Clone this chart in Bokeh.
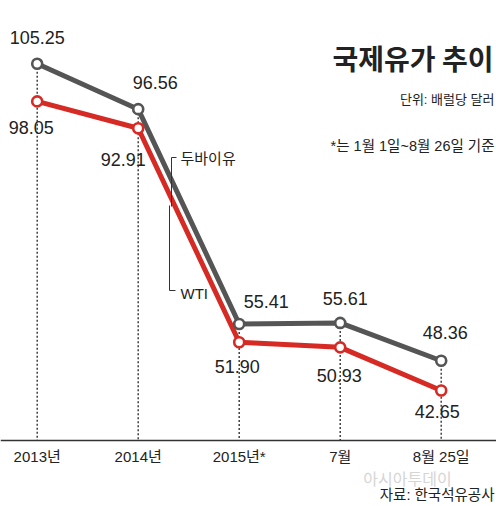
from bokeh.plotting import figure
from bokeh.models import Range1d, Span, ColumnDataSource
from bokeh.core.properties import value
from bokeh.embed import file_html
from bokeh.resources import INLINE

# ---------------- data ----------------
PERIODS = ["2013년", "2014년", "2015년*", "7월", "8월 25일"]
DUBAI = [105.25, 96.56, 55.41, 55.61, 48.36]
WTI = [98.05, 92.91, 51.90, 50.93, 42.65]
SERIES_NAMES = ["두바이유", "WTI"]
TITLE = "국제유가 추이"
UNIT = "단위: 배럴당 달러"
NOTE = "*는 1월 1일~8월 26일 기준"
SOURCE = "자료: 한국석유공사"
WATERMARK = "아시아투데이"

# ---------------- styles / geometry ----------------
W, H = 496, 506
PX_PER_CAT = 101.0
PX_PER_USD = 5.22
FIRST_X_PX = 36.7          # px of first category
TOP_VAL_PX = 63.3          # px of the highest value
X_START = -FIRST_X_PX / PX_PER_CAT
X_END = X_START + W / PX_PER_CAT
Y_END = max(DUBAI) + TOP_VAL_PX / PX_PER_USD
Y_START = Y_END - H / PX_PER_USD

GRAY = "#555555"
RED = "#d62a24"
INK = "#222222"
NUM_FONT = "Liberation Sans"
KR_FONT = "'Liberation Sans', 'Noto Sans CJK KR'"


def fx(px):  # picture px -> data x
    return X_START + px / PX_PER_CAT


def fy(px):  # picture px -> data y
    return Y_END - px / PX_PER_USD


BASELINE = fy(440)

DUBAI_OFF_X = [0, 17, 27, 5, 4]
DUBAI_OFF_Y = [-26, -27, -22, -24, -28]
WTI_OFF_X = [-6, -15, -2, -1, -4]
WTI_OFF_Y = [26, 31, 24, 28, 21]

idx = list(range(len(PERIODS)))

p = figure(width=W, height=H, output_backend="svg", toolbar_location=None,
           x_range=Range1d(X_START, X_END), y_range=Range1d(Y_START, Y_END),
           min_border=0, outline_line_color=None, background_fill_color="white",
           border_fill_color="white")
p.axis.visible = False
p.grid.visible = False

# baseline
p.add_layout(Span(location=BASELINE, dimension="width", line_color="#333333", line_width=1.3))

# dotted drop lines
p.segment(x0=idx, y0=DUBAI, x1=idx, y1=[BASELINE] * len(idx),
          line_color="#333333", line_width=1.4, line_dash="2 2")

# series lines
p.line(idx, DUBAI, line_color=GRAY, line_width=5)
p.line(idx, WTI, line_color=RED, line_width=5)
p.scatter(idx, DUBAI, size=10, fill_color="white", line_color=GRAY, line_width=2.6)
p.scatter(idx, WTI, size=10, fill_color="white", line_color=RED, line_width=2.6)

# value labels
src_d = ColumnDataSource(dict(x=idx, y=DUBAI, t=[f"{v:.2f}" for v in DUBAI],
                              ox=DUBAI_OFF_X, oy=DUBAI_OFF_Y))
src_w = ColumnDataSource(dict(x=idx, y=WTI, t=[f"{v:.2f}" for v in WTI],
                              ox=WTI_OFF_X, oy=WTI_OFF_Y))
for src in (src_d, src_w):
    p.text(x="x", y="y", text="t", x_offset="ox", y_offset="oy", source=src,
           text_font=value(NUM_FONT), text_font_size="18px", text_color=INK,
           text_align="center", text_baseline="middle")

# category labels
p.text(x=idx, y=[fy(456)] * len(idx), text=PERIODS, text_font=value(KR_FONT),
       text_font_size="15px", text_color=INK, text_align="center", text_baseline="middle")

# legend bracket
p.multi_line(xs=[[fx(176), fx(171), fx(171)], [fx(169), fx(169), fx(175)]],
             ys=[[fy(157), fy(157), fy(206)], [fy(205), fy(290), fy(290)]],
             line_color="#333333", line_width=1)
p.text(x=[fx(180), fx(180)], y=[fy(158), fy(293)], text=SERIES_NAMES,
       text_font=value(KR_FONT), text_font_size="15px", text_color=INK,
       text_align="left", text_baseline="middle")

# titles and notes
p.text(x=[fx(493)], y=[fy(57)], text=[TITLE], text_font=value("Noto Sans CJK KR"),
       text_font_size="28px", text_font_style="bold", text_color=INK,
       text_align="right", text_baseline="middle")
p.text(x=[fx(494)], y=[fy(99)], text=[UNIT], text_font=value(KR_FONT),
       text_font_size="13px", text_color=INK, text_align="right", text_baseline="middle")
p.text(x=[fx(494)], y=[fy(145)], text=[NOTE], text_font=value(KR_FONT),
       text_font_size="14.5px", text_color=INK, text_align="right", text_baseline="middle")
p.text(x=[fx(407)], y=[fy(477)], text=[WATERMARK], text_font=value("Noto Sans CJK KR"),
       text_font_size="16px", text_color="#d5d5d5", text_align="center", text_baseline="middle")
p.text(x=[fx(494)], y=[fy(494)], text=[SOURCE], text_font=value(KR_FONT),
       text_font_size="14.5px", text_color=INK, text_align="right", text_baseline="middle")

open("out.html", "w").write(file_html(p, INLINE))
